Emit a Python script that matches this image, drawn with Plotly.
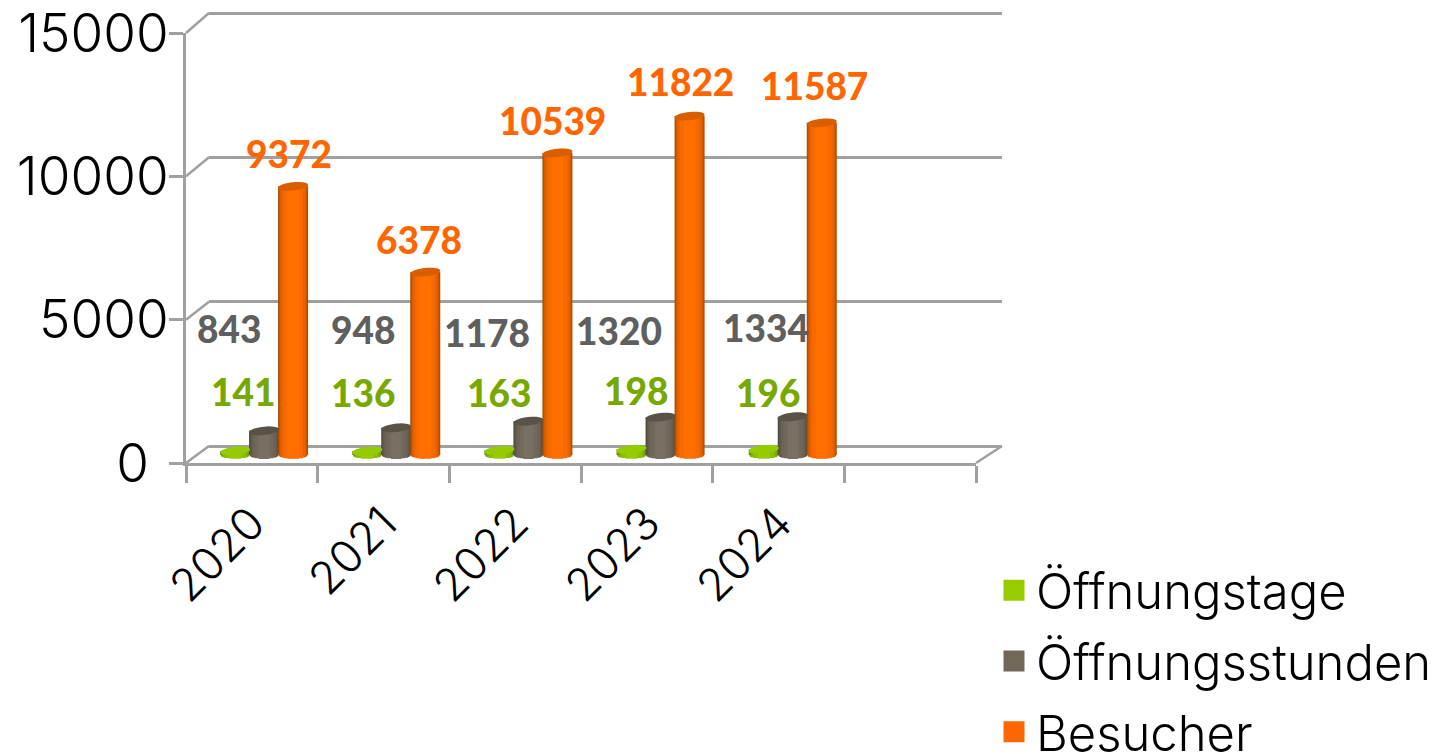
import math
import plotly.graph_objects as go

years = ["2020", "2021", "2022", "2023", "2024"]
oeffnungstage = [141, 136, 163, 198, 196]
oeffnungsstunden = [843, 948, 1178, 1320, 1334]
besucher = [9372, 6378, 10539, 11822, 11587]
y_ticks = [0, 5000, 10000, 15000]
y_ticktext = ["0\u00a0\u200a", "5000", "10000", "15000"]

W, H = 1441, 754
FONT = "Inter"
LABEL_FONT = "Lato"
LINE = "#a0a0a0"

def dx(a, b):
    return [a / W, b / W]

def dy(bottom, top):
    return [(H - bottom) / H, (H - top) / H]

units_per_px = 15000 / 430          # value scale of the value axis
px_per_cat = 793 / 6
bar_w = 30 / px_per_cat
series = [
    dict(name="Öffnungstage", values=oeffnungstage, off=-29, swatch="#99cc00", cap="#93cc00",
         strips=[(1.0, "#5f8a00"), (0.94, "#6f9c00"), (0.86, "#7fae00"), (0.72, "#8cbf00"), (0.4, "#98cc00")],
         ldx=[8, -4, 0, 4, 4], ldy=[59, 59, 58, 59, 57], lcol="#77a800"),
    dict(name="Öffnungsstunden", values=oeffnungsstunden, off=0, swatch="#72685a", cap="#5a5247",
         strips=[(1.0, "#4c463c"), (0.95, "#585145"), (0.88, "#625a4e"), (0.78, "#6b6356"), (0.6, "#72695c"), (0.35, "#787062")],
         ldx=[-35, -33, -41, -42, -27], ldy=[102, 98, 89, 87, 89], lcol="#5f5f5f"),
    dict(name="Besucher", values=besucher, off=29, swatch="#ff6600", cap="#d95e00",
         strips=[(1.0, "#a84a00"), (0.95, "#bd5300"), (0.89, "#d55d00"), (0.8, "#e96400"), (0.65, "#f86900"), (0.4, "#ff7000")],
         ldx=[-4, -6, -5, -9, -7], ldy=[33, 33, 32, 35, 37], lcol="#ff6600"),
]

fig = go.Figure()

# main front axes carrying the ticks and labels
fig.add_trace(go.Scatter(x=years, y=[None] * 5, xaxis="x", yaxis="y", showlegend=False, hoverinfo="skip"))
# back wall grid
fig.add_trace(go.Scatter(x=[None], y=[None], xaxis="x2", yaxis="y2", showlegend=False, hoverinfo="skip"))

RY = 4.2 * units_per_px
shapes = []
annotations = []
for s in series:
    xs = [i + s["off"] / px_per_cat for i in range(len(years))]
    for f, col in s["strips"]:
        depth = RY * math.sqrt(max(0, 1 - f * f))
        base = [-depth] * len(xs)
        fig.add_trace(go.Bar(
            x=xs, y=[v + depth for v in s["values"]], base=base,
            width=bar_w * f, marker=dict(color=col, line=dict(width=0)),
            xaxis="x3", yaxis="y3", showlegend=False, hoverinfo="skip",
        ))
    for i, (cx, v) in enumerate(zip(xs, s["values"])):
        pts = []
        for k in range(36):
            t = 2 * math.pi * k / 36
            px = cx + bar_w / 2 * math.cos(t)
            py = v + RY * math.sin(t) + 1.5 * units_per_px * math.cos(t)
            pts.append(f"{px:.4f},{py:.1f}")
        shapes.append(dict(type="path", xref="x3", yref="y3", layer="above",
                           path="M" + " L".join(pts) + " Z", fillcolor=s["cap"], line=dict(width=0)))
        annotations.append(dict(
            xref="x3", yref="y3", x=cx, y=v, text=str(v), showarrow=False,
            xshift=s["ldx"][i], yshift=s["ldy"][i], xanchor="center", yanchor="middle",
            font=dict(family=LABEL_FONT, size=37, color=s["lcol"], weight=900),
        ))

# legend entries
for s in series:
    fig.add_trace(go.Scatter(
        x=[None], y=[None], mode="markers", name=s["name"], legendgroup=s["name"],
        marker=dict(symbol="square", size=16, color=s["swatch"], line=dict(width=5, color=s["swatch"])),
        xaxis="x3", yaxis="y3",
    ))

# connecting diagonals of the chart box, from the front axes to the back wall
FRONT_LEFT, FRONT_RIGHT, FRONT_BOTTOM, FRONT_TOP = 186, 976, 463, 33
BACK_LEFT, BACK_RIGHT, BACK_BOTTOM, BACK_TOP = 209, 1002, 446, 13
for t in y_ticks:
    frac = t / 15000
    fy = FRONT_BOTTOM + (FRONT_TOP - FRONT_BOTTOM) * frac
    by = BACK_BOTTOM + (BACK_TOP - BACK_BOTTOM) * frac
    shapes.append(dict(type="line", xref="paper", yref="paper", x0=FRONT_LEFT / W, y0=(H - fy) / H,
                       x1=BACK_LEFT / W, y1=(H - by) / H, line=dict(color=LINE, width=2.5), layer="below"))
shapes.append(dict(type="line", xref="paper", yref="paper", x0=FRONT_RIGHT / W, y0=(H - FRONT_BOTTOM) / H,
                   x1=BACK_RIGHT / W, y1=(H - BACK_BOTTOM) / H, line=dict(color=LINE, width=2.5), layer="below"))

grid_pad = 300
grid_pad_px = grid_pad * (BACK_BOTTOM - BACK_TOP) / 15000

fig.update_layout(
    width=W, height=H, margin=dict(l=0, r=0, t=0, b=0, autoexpand=False),
    paper_bgcolor="white", plot_bgcolor="rgba(0,0,0,0)",
    barmode="overlay", shapes=shapes, annotations=annotations,
    font=dict(family=FONT, color="black"),
    xaxis=dict(domain=dx(FRONT_LEFT, FRONT_RIGHT), type="category", categoryorder="array",
               categoryarray=years + ["\u00a0"], range=[-0.5, 5.5],
               tickmode="array", tickvals=years + ["\u00a0"], ticktext=years + ["\u00a0"],
               tickson="boundaries", ticks="outside", ticklen=17, tickwidth=2.5, tickcolor=LINE,
               tickangle=-45, tickfont=dict(size=45, weight=300), ticklabelstandoff=13,
               showline=True, linecolor=LINE, linewidth=2.5,
               showgrid=False, zeroline=False, anchor="y", fixedrange=True),
    yaxis=dict(domain=dy(FRONT_BOTTOM, FRONT_TOP), range=[0, 15000], tickmode="array", tickvals=y_ticks,
               ticktext=y_ticktext, ticks="outside", ticklen=14, tickwidth=2.5, tickcolor=LINE,
               tickfont=dict(size=53, weight=300), ticklabelstandoff=-10,
               showline=True, linecolor=LINE, linewidth=2.5,
               showgrid=False, zeroline=False, anchor="x", fixedrange=True),
    xaxis2=dict(domain=dx(BACK_LEFT, BACK_RIGHT), range=[0, 1], visible=False, anchor="y2", fixedrange=True),
    yaxis2=dict(domain=dy(BACK_BOTTOM + grid_pad_px, BACK_TOP - grid_pad_px), range=[-grid_pad, 15000 + grid_pad],
                tickmode="array", tickvals=y_ticks,
                showticklabels=False, ticks="", showgrid=True, gridcolor=LINE, gridwidth=2.5,
                zeroline=False, showline=False, anchor="x2", fixedrange=True),
    xaxis3=dict(domain=dx(198, 991), range=[-0.5, 5.5], visible=False, anchor="y3", fixedrange=True),
    yaxis3=dict(domain=dy(455 + 300 / units_per_px, 455 - 15000 / units_per_px), range=[-300, 15000],
                visible=False, anchor="x3", fixedrange=True),
    legend=dict(x=992 / W, y=(H - 552) / H, xanchor="left", yanchor="top", itemwidth=34,
                font=dict(size=49, color="black", weight=300), tracegroupgap=4, bgcolor="rgba(0,0,0,0)",
                itemclick=False, itemdoubleclick=False),
    showlegend=True,
)

fig.write_html("out.html", config=dict(displayModeBar=False),
               post_script="document.body.style.margin='0';document.documentElement.style.overflow='hidden';")
